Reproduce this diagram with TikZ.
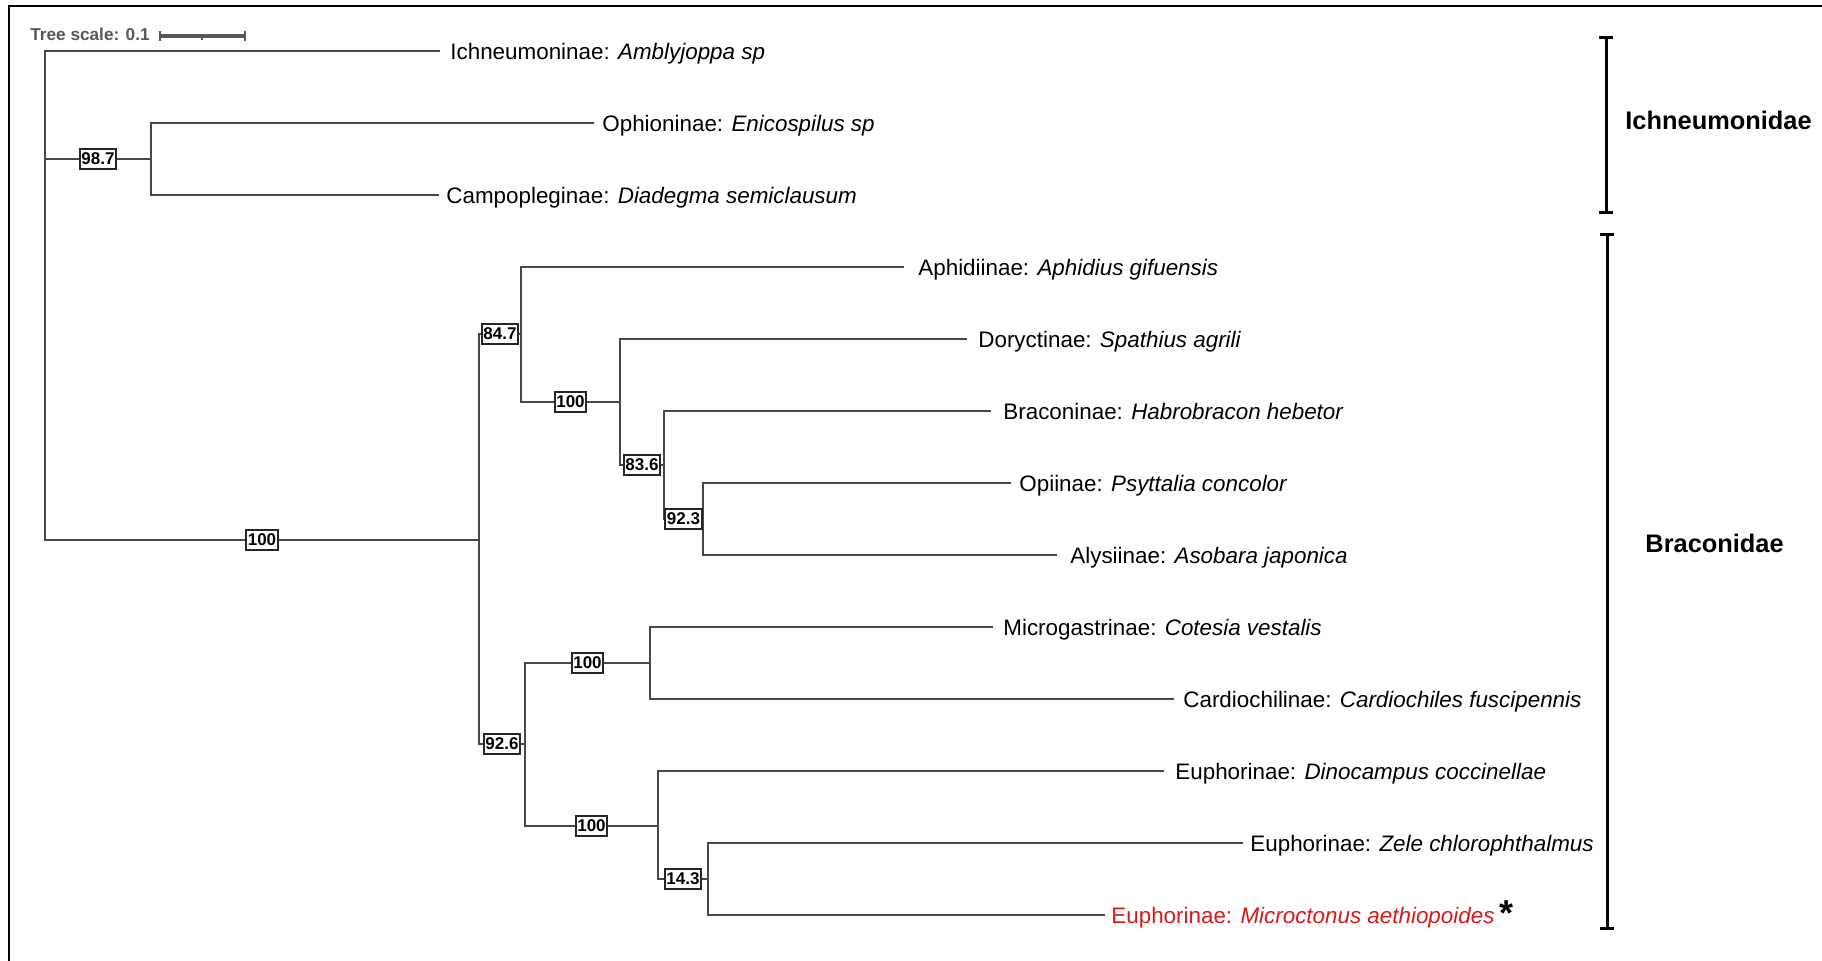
\documentclass[tikz,border=0pt]{standalone}
\usepackage{fontspec}
\setmainfont{Liberation Sans}
\usetikzlibrary{calc}
\definecolor{treegray}{HTML}{474747}
\definecolor{scalegray}{HTML}{585858}
\definecolor{redlab}{HTML}{D7191C}
\begin{document}
\begin{tikzpicture}[x=0.5pt,y=-0.5pt,
  branch/.style={draw=treegray, line width=0.75pt},
  boot/.style={draw=black!85, fill=white, line width=1pt, inner xsep=0.8pt, inner ysep=1.8pt,
               font=\fontsize{8.5}{9}\selectfont\bfseries},
  tiplab/.style={anchor=base west, inner sep=0pt, font=\fontsize{11.2}{13}\selectfont, yshift=-4pt},
  famlab/.style={anchor=west, inner sep=0pt, font=\fontsize{12.7}{14}\selectfont\bfseries},
  bracket/.style={draw=black, line width=1.5pt},
  scalebar/.style={draw=scalegray, line width=1.6pt},
]
\useasboundingbox (0,0) rectangle (1822,960);
% frame
\draw[line width=1pt] (9,962) -- (9,6) -- (1824,6);

% tree scale
\node[anchor=west, inner sep=0pt, text=scalegray, font=\fontsize{8.6}{10}\selectfont\bfseries] (tscale) at (30,34) {Tree scale: 0.1};
\coordinate (sa) at (160,36);
\coordinate (sb) at (245,36);
\coordinate (sm) at (202,36);
\draw[scalebar] (sa) -- (sb);
\draw[scalebar, line width=0.8pt] ([yshift=2.7pt]sa) -- ([yshift=-2.7pt]sa);
\draw[scalebar, line width=0.8pt] ([yshift=2.7pt]sb) -- ([yshift=-2.7pt]sb);
\draw[scalebar, line width=0.6pt] (sm) -- ([yshift=-2pt]sm);

% internal nodes
\coordinate (root) at (45,295);
\coordinate (n987) at (151,159);
\coordinate (nB) at (479,540);
\coordinate (n847) at (521,334);
\coordinate (n100a) at (620,402);
\coordinate (n836) at (664,465);
\coordinate (n923) at (703,519);
\coordinate (n926) at (525,744);
\coordinate (n100b) at (650,663);
\coordinate (n100c) at (658,826);
\coordinate (n143) at (708,879);

% tips
\coordinate (t1) at (440,51);
\coordinate (t2) at (594,123);
\coordinate (t3) at (439,195);
\coordinate (t4) at (904,267);
\coordinate (t5) at (967,339);
\coordinate (t6) at (991,411);
\coordinate (t7) at (1011,483);
\coordinate (t8) at (1057,555);
\coordinate (t9) at (993,627);
\coordinate (t10) at (1174,699);
\coordinate (t11) at (1164,771);
\coordinate (t12) at (1243,843);
\coordinate (t13) at (1105,915);

% branches to tips
\draw[branch] (root) |- (t1);
\draw[branch] (n987) |- (t2);
\draw[branch] (n987) |- (t3);
\draw[branch] (n847) |- (t4);
\draw[branch] (n100a) |- (t5);
\draw[branch] (n836) |- (t6);
\draw[branch] (n923) |- (t7);
\draw[branch] (n923) |- (t8);
\draw[branch] (n100b) |- (t9);
\draw[branch] (n100b) |- (t10);
\draw[branch] (n100c) |- (t11);
\draw[branch] (n143) |- (t12);
\draw[branch] (n143) |- (t13);

% internal branches with support boxes
\draw[branch] (root) |- (n987) node[boot, pos=0.75] (b987) {98.7};
\draw[branch] (root) |- (nB) node[boot, pos=0.75] (bB) {100};
\draw[branch] (nB) |- (n847) node[boot, pos=0.75] (b847) {84.7};
\draw[branch] (n847) |- (n100a) node[boot, pos=0.75] (b100a) {100};
\draw[branch] (n100a) |- (n836) node[boot, pos=0.75] (b836) {83.6};
\draw[branch] (n836) |- (n923) node[boot, pos=0.75] (b923) {92.3};
\draw[branch] (nB) |- (n926) node[boot, pos=0.75] (b926) {92.6};
\draw[branch] (n926) |- (n100b) node[boot, pos=0.75] (b100b) {100};
\draw[branch] (n926) |- (n100c) node[boot, pos=0.75] (b100c) {100};
\draw[branch] (n100c) |- (n143) node[boot, pos=0.75] (b143) {14.3};

% tip labels
\node[tiplab] (l1) at ([xshift=5pt]t1) {Ichneumoninae: \textit{Amblyjoppa sp}};
\node[tiplab] (l2) at ([xshift=4pt]t2) {Ophioninae: \textit{Enicospilus sp}};
\node[tiplab] (l3) at ([xshift=3.5pt]t3) {Campopleginae: \textit{Diadegma semiclausum}};
\node[tiplab] (l4) at ([xshift=7pt]t4) {Aphidiinae: \textit{Aphidius gifuensis}};
\node[tiplab] (l5) at ([xshift=5.5pt]t5) {Doryctinae: \textit{Spathius agrili}};
\node[tiplab] (l6) at ([xshift=6pt]t6) {Braconinae: \textit{Habrobracon hebetor}};
\node[tiplab] (l7) at ([xshift=4pt]t7) {Opiinae: \textit{Psyttalia concolor}};
\node[tiplab] (l8) at ([xshift=6.5pt]t8) {Alysiinae: \textit{Asobara japonica}};
\node[tiplab] (l9) at ([xshift=5pt]t9) {Microgastrinae: \textit{Cotesia vestalis}};
\node[tiplab] (l10) at ([xshift=4.5pt]t10) {Cardiochilinae: \textit{Cardiochiles fuscipennis}};
\node[tiplab] (l11) at ([xshift=5.5pt]t11) {Euphorinae: \textit{Dinocampus coccinellae}};
\node[tiplab] (l12) at ([xshift=3.5pt]t12) {Euphorinae: \textit{Zele chlorophthalmus}};
\node[tiplab, text=redlab] (l13) at ([xshift=3pt]t13) {Euphorinae: \textit{Microctonus aethiopoides}};
\node[anchor=base west, inner sep=0pt, font=\fontsize{18}{18}\selectfont\bfseries] (star) at ([xshift=2pt,yshift=-1pt]l13.base east) {*};

% family brackets
\coordinate (ia) at (1606,37);
\coordinate (ib) at (1606,212);
\coordinate (ba) at (1607,234);
\coordinate (bb) at (1607,928);
\draw[bracket] (ia) -- (ib);
\draw[bracket] ([xshift=-3.5pt]ia) -- ([xshift=3.5pt]ia);
\draw[bracket] ([xshift=-3.5pt]ib) -- ([xshift=3.5pt]ib);
\draw[bracket] (ba) -- (bb);
\draw[bracket] ([xshift=-3.5pt]ba) -- ([xshift=3.5pt]ba);
\draw[bracket] ([xshift=-3.5pt]bb) -- ([xshift=3.5pt]bb);
\node[famlab] (fI) at (1625,120) {Ichneumonidae};
\node[famlab] (fB) at (1645,543) {Braconidae};
\end{tikzpicture}
\end{document}
